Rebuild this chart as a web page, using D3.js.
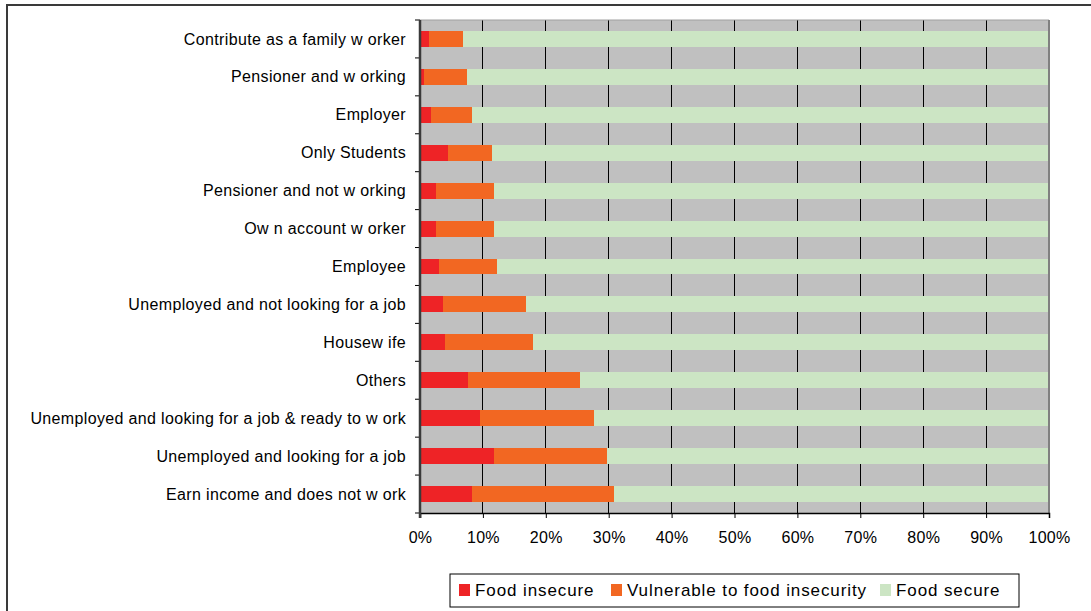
<!DOCTYPE html>
<html><head><meta charset="utf-8">
<script src="https://cdn.jsdelivr.net/npm/d3@7"></script>
<style>
html,body{margin:0;padding:0;background:#fff;}
svg{display:block;font-family:"Liberation Sans",Arial,sans-serif;}
</style></head>
<body>
<svg id="chart" width="1091" height="611"></svg>
<script>
const categories = [
  "Contribute as a family w orker",
  "Pensioner and w orking",
  "Employer",
  "Only Students",
  "Pensioner and not w orking",
  "Ow n account w orker",
  "Employee",
  "Unemployed and not looking for a job",
  "Housew ife",
  "Others",
  "Unemployed and looking for a job & ready to w ork",
  "Unemployed and looking for a job",
  "Earn income and does not w ork"
];
const foodInsecure = [1.4, 0.7, 1.7, 4.4, 2.6, 2.6, 3.1, 3.6, 3.9, 7.7, 9.5, 11.7, 8.3];
const vulnerable   = [5.5, 6.7, 6.5, 7.0, 9.1, 9.1, 9.1, 13.2, 14.1, 17.8, 18.2, 18.1, 22.5];
const foodSecure   = categories.map((c,i)=>+(100 - foodInsecure[i] - vulnerable[i]).toFixed(1));
const seriesNames = ["Food insecure", "Vulnerable to food insecurity", "Food secure"];
const seriesColors = ["#EE2326", "#F26722", "#CCE5C4"];
const xTicks = [0,10,20,30,40,50,60,70,80,90,100];

const svg = d3.select("#chart");
const M = {left:420, right:1049, top:20, bottom:513};
const FONT = "Liberation Sans, Arial, sans-serif";

// outer frame
svg.append("rect").attr("x",7).attr("y",5).attr("width",1200).attr("height",700)
  .attr("fill","none").attr("stroke","#3a3a3a").attr("stroke-width",2);

const x = d3.scaleLinear().domain([0,100]).range([M.left, M.right]);
const y = d3.scaleBand().domain(categories).range([M.top, M.bottom]).paddingInner(0.58).paddingOuter(0.29);
const yb = d3.scaleBand().domain(categories).range([M.top, M.bottom]);

// plot background
svg.append("rect").attr("x",M.left).attr("y",M.top).attr("width",M.right-M.left).attr("height",M.bottom-M.top)
  .attr("fill","#C0C0C0");

// grid
svg.append("g").selectAll("line").data(xTicks.slice(1,-1)).join("line")
  .attr("x1",d=>x(d)).attr("x2",d=>x(d)).attr("y1",M.top).attr("y2",M.bottom)
  .attr("stroke","#000").attr("stroke-width",1).attr("shape-rendering","crispEdges");

// stacked bars
const rows = categories.map((c,i)=>({cat:c, "Food insecure":foodInsecure[i], "Vulnerable to food insecurity":vulnerable[i], "Food secure":foodSecure[i]}));
const stack = d3.stack().keys(seriesNames)(rows);
svg.append("g").selectAll("g").data(stack).join("g")
  .attr("fill",(d,i)=>seriesColors[i])
  .selectAll("rect").data(d=>d).join("rect")
  .attr("x",d=>x(d[0])).attr("width",d=>x(Math.min(d[1],100))-x(d[0]))
  .attr("y",d=>y(d.data.cat)).attr("height",y.bandwidth())
  .attr("shape-rendering","crispEdges");

// plot border top/right
svg.append("line").attr("x1",M.left).attr("x2",M.right).attr("y1",M.top).attr("y2",M.top)
  .attr("stroke","#a0a0a0").attr("stroke-width",1);
svg.append("line").attr("x1",M.right).attr("x2",M.right).attr("y1",M.top).attr("y2",M.bottom)
  .attr("stroke","#808080").attr("stroke-width",2);

// x axis
const xAxis = d3.axisBottom(x).tickValues(xTicks).tickFormat(d=>d+"%").tickSize(5).tickPadding(14);
const gx = svg.append("g").attr("transform",`translate(0,${M.bottom})`).call(xAxis);
gx.select(".domain").attr("stroke","#000").attr("stroke-width",1.5);
gx.selectAll(".tick line").attr("stroke","#000");
gx.selectAll("text").attr("font-size",16).attr("letter-spacing","0.3px").attr("fill","#000").attr("font-family",FONT);

// y axis: ticks at band boundaries
const gy = svg.append("g");
const bounds = categories.map(c=>yb(c)).concat([M.bottom]);
gy.selectAll("line.t").data(bounds).join("line").attr("class","t")
  .attr("x1",M.left-5).attr("x2",M.left).attr("y1",d=>d).attr("y2",d=>d)
  .attr("stroke","#000").attr("stroke-width",1);
gy.append("line").attr("x1",M.left).attr("x2",M.left).attr("y1",M.top).attr("y2",M.bottom+5)
  .attr("stroke","#3a3a3a").attr("stroke-width",2.5);
gy.selectAll("text").data(categories).join("text")
  .attr("x",M.left-14).attr("y",d=>yb(d)+yb.bandwidth()/2).attr("dy","0.35em")
  .attr("text-anchor","end").attr("font-size",16).attr("letter-spacing","0.35px")
  .attr("fill","#000").text(d=>d);

// legend
const lg = svg.append("g");
lg.append("rect").attr("x",450).attr("y",574).attr("width",569).attr("height",33)
  .attr("fill","#fff").attr("stroke","#000").attr("stroke-width",1);
const legX = [459, 611, 880];
seriesNames.forEach((s,i)=>{
  lg.append("rect").attr("x",legX[i]).attr("y",584).attr("width",11).attr("height",12).attr("fill",seriesColors[i]);
  lg.append("text").attr("x",legX[i]+16).attr("y",590).attr("dy","0.35em").attr("font-size",17)
    .attr("letter-spacing","0.9px").attr("fill","#000").text(s);
});
</script>
</body></html>
